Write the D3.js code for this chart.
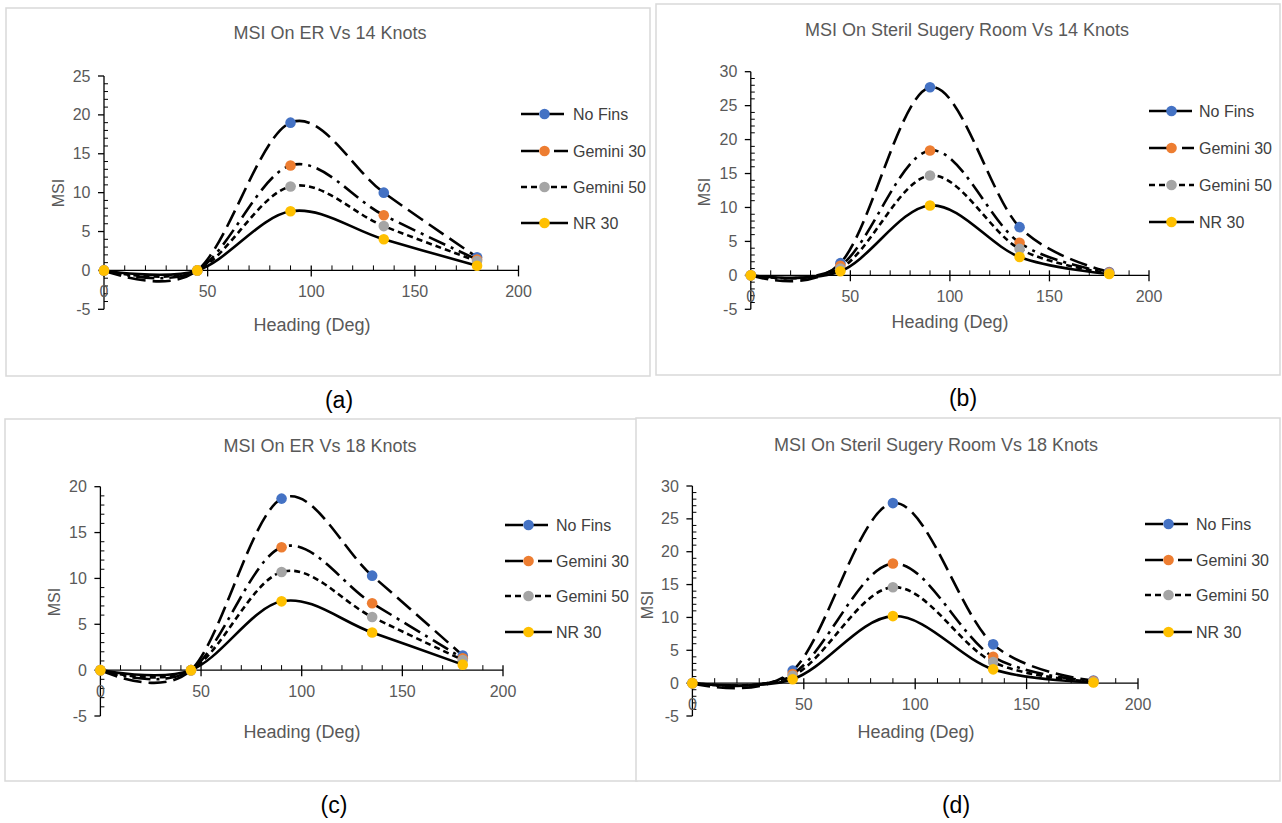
<!DOCTYPE html>
<html>
<head>
<meta charset="utf-8">
<script src="https://cdn.jsdelivr.net/npm/d3@7"></script>
<style>
  html, body { margin: 0; padding: 0; background: #fff; }
  svg { display: block; }
  text { font-family: "Liberation Sans", Arial, sans-serif; }
</style>
</head>
<body>
<svg id="chart" width="1282" height="823"></svg>
<script>
// headings (deg) where MSI was computed
const headings = [0, 45, 90, 135, 180];
const seriesNames = ['No Fins', 'Gemini 30', 'Gemini 50', 'NR 30'];
const xTicks = [0, 50, 100, 150, 200];

const titles = [
  'MSI On ER Vs 14 Knots',
  'MSI On Steril Sugery Room Vs 14 Knots',
  'MSI On ER Vs 18 Knots',
  'MSI On Steril Sugery Room Vs 18 Knots'
];
const captions = ['(a)', '(b)', '(c)', '(d)'];
const yMax = [25, 30, 20, 30];
const yMin = -5;

// MSI values, one row per series (No Fins, Gemini 30, Gemini 50, NR 30)
const msiEr14 = [
  [0, 0, 19.0, 10.0, 1.7],
  [0, 0, 13.5, 7.1, 1.4],
  [0, 0, 10.8, 5.7, 1.2],
  [0, 0, 7.6, 4.0, 0.6]
];
const msiSurgery14 = [
  [0, 1.8, 27.7, 7.1, 0.5],
  [0, 1.4, 18.4, 4.8, 0.4],
  [0, 1.0, 14.7, 3.9, 0.3],
  [0, 0.6, 10.3, 2.7, 0.2]
];
const msiEr18 = [
  [0, 0, 18.7, 10.3, 1.6],
  [0, 0, 13.4, 7.3, 1.3],
  [0, 0, 10.7, 5.8, 1.1],
  [0, 0, 7.5, 4.1, 0.6]
];
const msiSurgery18 = [
  [0, 1.9, 27.4, 5.9, 0.4],
  [0, 1.4, 18.2, 4.0, 0.3],
  [0, 1.1, 14.6, 3.2, 0.2],
  [0, 0.6, 10.2, 2.1, 0.1]
];
const panelData = [msiEr14, msiSurgery14, msiEr18, msiSurgery18];

const markerColors = ['#4472c4', '#ed7d31', '#a5a5a5', '#ffc000'];
const dashes = ['18,7', '18,6,3,6', '6,4', null];

// layout of each panel in page pixels
const layout = [
  { box: [6, 8, 644, 368], x0: 104, x1: 518.5, yTop: 76, yBot: 309.3,
    title: [330, 33], xl: [312, 325], yl: [58, 193],
    leg: [521, 568, 573], legY: [114, 151, 187, 223], cap: [339, 400] },
  { box: [656, 4, 624, 371], x0: 750.8, x1: 1149, yTop: 71.7, yBot: 309.3,
    title: [967, 30], xl: [950, 322], yl: [704, 192],
    leg: [1149, 1194, 1199], legY: [111, 148, 185, 222], cap: [963, 398] },
  { box: [5, 419, 632, 362], x0: 100.4, x1: 503, yTop: 486.7, yBot: 716,
    title: [320, 446], xl: [302, 732], yl: [54, 602],
    leg: [505, 552, 556], legY: [525, 561, 596, 632], cap: [334, 805] },
  { box: [636, 418, 644, 363], x0: 692.4, x1: 1138, yTop: 486, yBot: 716,
    title: [936, 445], xl: [916, 732], yl: [647, 605],
    leg: [1145, 1192, 1196], legY: [524, 560, 595, 632], cap: [956, 805] }
];

const svg = d3.select('#chart');

layout.forEach((L, p) => {
  const g = svg.append('g');

  g.append('rect')
    .attr('x', L.box[0]).attr('y', L.box[1])
    .attr('width', L.box[2]).attr('height', L.box[3])
    .attr('fill', '#fff').attr('stroke', '#d9d9d9').attr('stroke-width', 1.5);

  const x = d3.scaleLinear().domain([0, 200]).range([L.x0, L.x1]);
  const y = d3.scaleLinear().domain([yMin, yMax[p]]).range([L.yBot, L.yTop]);

  // y axis: major ticks outside, minor inside
  const yMajor = d3.range(yMin, yMax[p] + 1, 5);
  const yMinor = d3.range(yMin, yMax[p] + 0.5, 1).filter(v => v % 5 !== 0);
  const yAxis = g.append('g').attr('transform', 'translate(' + x(0) + ',0)');
  yAxis.append('line').attr('y1', y(yMin)).attr('y2', y(yMax[p]))
    .attr('stroke', '#000').attr('stroke-width', 1.3);
  yAxis.selectAll('.ymaj').data(yMajor).enter().append('line')
    .attr('x1', -6).attr('x2', 0).attr('y1', d => y(d)).attr('y2', d => y(d))
    .attr('stroke', '#000').attr('stroke-width', 1.3);
  yAxis.selectAll('.ymin').data(yMinor).enter().append('line')
    .attr('x1', 0).attr('x2', 4).attr('y1', d => y(d)).attr('y2', d => y(d))
    .attr('stroke', '#000').attr('stroke-width', 1);
  yAxis.selectAll('text').data(yMajor).enter().append('text')
    .attr('x', -13.5).attr('y', d => y(d))
    .attr('text-anchor', 'end').attr('dominant-baseline', 'central')
    .attr('font-size', 16).attr('fill', '#595959')
    .text(d => d);

  // x axis along MSI = 0
  const xMinor = d3.range(10, 200, 10).filter(v => v % 50 !== 0);
  const xAxis = g.append('g').attr('transform', 'translate(0,' + y(0) + ')');
  xAxis.append('line').attr('x1', x(0)).attr('x2', x(200))
    .attr('stroke', '#000').attr('stroke-width', 1.3);
  xAxis.selectAll('.xmaj').data(xTicks).enter().append('line')
    .attr('x1', d => x(d)).attr('x2', d => x(d)).attr('y1', -5).attr('y2', 6)
    .attr('stroke', '#000').attr('stroke-width', 1.3);
  xAxis.selectAll('.xmin').data(xMinor).enter().append('line')
    .attr('x1', d => x(d)).attr('x2', d => x(d)).attr('y1', -5).attr('y2', 0)
    .attr('stroke', '#000').attr('stroke-width', 1);
  xAxis.selectAll('text').data(xTicks).enter().append('text')
    .attr('x', d => x(d)).attr('y', 21)
    .attr('text-anchor', 'middle').attr('dominant-baseline', 'central')
    .attr('font-size', 16).attr('fill', '#595959')
    .text(d => d);

  // series
  const line = d3.line()
    .x((d, i) => x(headings[i]))
    .y(d => y(d))
    .curve(d3.curveCardinal.tension(0));

  panelData[p].forEach((vals, s) => {
    g.append('path')
      .attr('d', line(vals))
      .attr('fill', 'none').attr('stroke', '#000')
      .attr('stroke-width', 2.6)
      .attr('stroke-dasharray', dashes[s]);
    g.selectAll('.m' + s).data(vals).enter().append('circle')
      .attr('cx', (d, i) => x(headings[i])).attr('cy', d => y(d))
      .attr('r', 5.3).attr('fill', markerColors[s]);
  });

  // legend
  seriesNames.forEach((name, s) => {
    const ly = L.legY[s];
    g.append('line')
      .attr('x1', L.leg[0]).attr('x2', L.leg[1]).attr('y1', ly).attr('y2', ly)
      .attr('stroke', '#000').attr('stroke-width', 2.6)
      .attr('stroke-dasharray', dashes[s]);
    g.append('circle')
      .attr('cx', (L.leg[0] + L.leg[1]) / 2).attr('cy', ly)
      .attr('r', 5.3).attr('fill', markerColors[s]);
    g.append('text')
      .attr('x', L.leg[2]).attr('y', ly)
      .attr('dominant-baseline', 'central')
      .attr('font-size', 16).attr('fill', '#404040')
      .text(name);
  });

  g.append('text')
    .attr('x', L.title[0]).attr('y', L.title[1])
    .attr('text-anchor', 'middle').attr('dominant-baseline', 'central')
    .attr('font-size', 18).attr('fill', '#595959')
    .text(titles[p]);

  g.append('text')
    .attr('x', L.xl[0]).attr('y', L.xl[1])
    .attr('text-anchor', 'middle').attr('dominant-baseline', 'central')
    .attr('font-size', 18).attr('fill', '#595959')
    .text('Heading (Deg)');

  g.append('text')
    .attr('transform', 'translate(' + L.yl[0] + ',' + L.yl[1] + ') rotate(-90)')
    .attr('text-anchor', 'middle').attr('dominant-baseline', 'central')
    .attr('font-size', 16).attr('fill', '#595959')
    .text('MSI');

  svg.append('text')
    .attr('x', L.cap[0]).attr('y', L.cap[1])
    .attr('text-anchor', 'middle').attr('dominant-baseline', 'central')
    .attr('font-family', 'Lato, "Open Sans", sans-serif')
    .attr('font-size', 23).attr('fill', '#000')
    .text(captions[p]);
});
</script>
</body>
</html>
